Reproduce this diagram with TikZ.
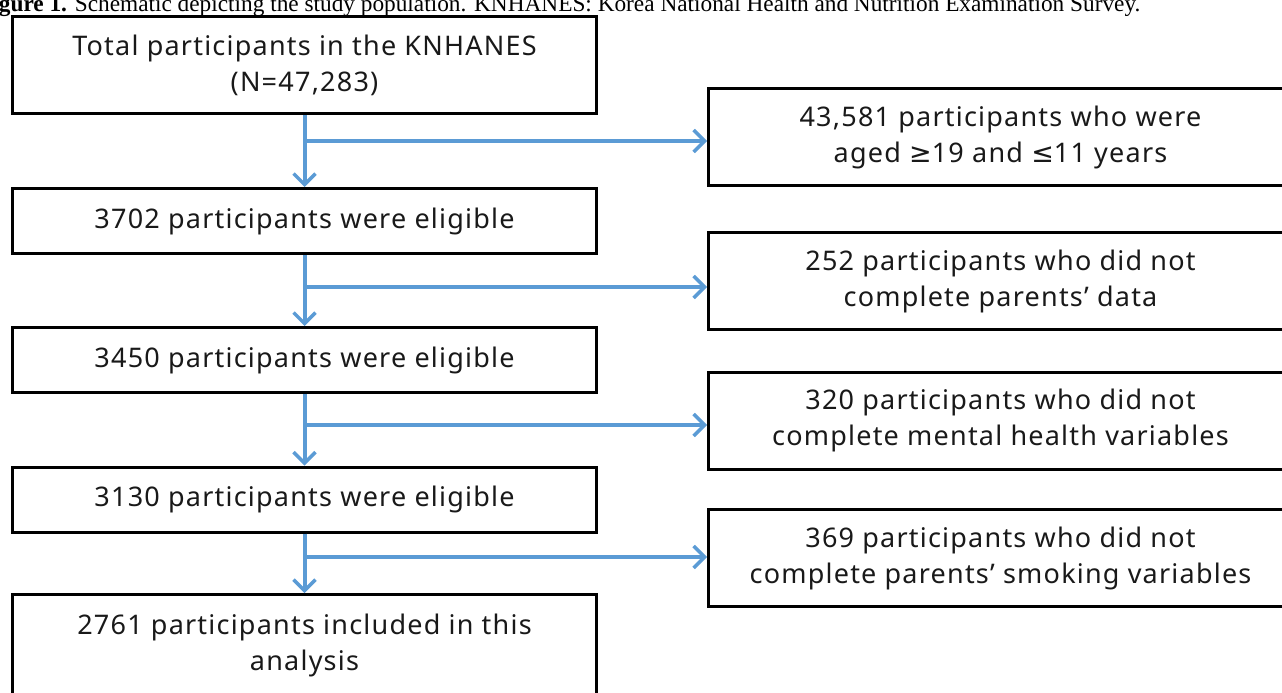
\documentclass[tikz,border=0pt]{standalone}
\usepackage{fontspec}
\setmainfont{Noto Sans}[LetterSpace=4.5]
\newfontfamily\capfont{Liberation Serif}
\newfontfamily\symfont{DejaVu Sans}
\usetikzlibrary{arrows.meta}
\definecolor{flowblue}{HTML}{5B9BD5}
\newcommand{\geqsym}{{\symfont ≥}}
\newcommand{\leqsym}{{\symfont ≤}}
\tikzset{
  stagebox/.style={draw=black, line width=3pt, minimum width=584pt, inner sep=0pt,
    align=center, font=\fontsize{27}{36}\selectfont, text=black!90},
  flow/.style={draw=flowblue, line width=4pt,
    -{Straight Barb[length=11pt,width=22pt,line width=3.5pt]}},
}
\begin{document}
\begin{tikzpicture}[x=1pt,y=-1pt]
\useasboundingbox (0,0) rectangle (1282,693);
\clip (0,0) rectangle (1282,693);
% caption line, partly above the page edge
\node[anchor=base west, inner sep=0pt, font=\capfont\fontsize{23.3}{25}\selectfont]
  (cap) at (-22,11.5) {\textbf{Figure 1.} Schematic depicting the study population. KNHANES: Korea National Health and Nutrition Examination Survey.};
% main column
\node[stagebox, minimum height=97pt] (s1) at (304.5,65) {Total participants in the KNHANES\\(N=47,283)};
\node[stagebox, minimum height=65pt] (s2) at (304.5,221) {3702 participants were eligible};
\node[stagebox, minimum height=65pt] (s3) at (304.5,360) {3450 participants were eligible};
\node[stagebox, minimum height=65pt] (s4) at (304.5,499.5) {3130 participants were eligible};
\node[stagebox, minimum height=101pt] (s5) at (304.5,645) {2761 participants included in this\\analysis};
% exclusion boxes
\node[stagebox, minimum height=97pt] (e1) at (1000.5,137) {43,581 participants who were\\aged \geqsym19 and \leqsym11 years};
\node[stagebox, minimum height=97pt] (e2) at (1000.5,281) {252 participants who did not\\complete parents’ data};
\node[stagebox, minimum height=97pt] (e3) at (1000.5,420.5) {320 participants who did not\\complete mental health variables};
\node[stagebox, minimum height=97pt] (e4) at (1000.5,558) {369 participants who did not\\complete parents’ smoking variables};
% branch points on the main flow
\coordinate (b1) at (305,141);
\coordinate (b2) at (305,287);
\coordinate (b3) at (305,425);
\coordinate (b4) at (305,557);
% connectors
\draw[flow] (s1.south) -- (s2.north);
\draw[flow] (s2.south) -- (s3.north);
\draw[flow] (s3.south) -- (s4.north);
\draw[flow] (s4.south) -- (s5.north);
\draw[flow] (b1) -- (e1.west |- b1);
\draw[flow] (b2) -- (e2.west |- b2);
\draw[flow] (b3) -- (e3.west |- b3);
\draw[flow] (b4) -- (e4.west |- b4);
\end{tikzpicture}
\end{document}
